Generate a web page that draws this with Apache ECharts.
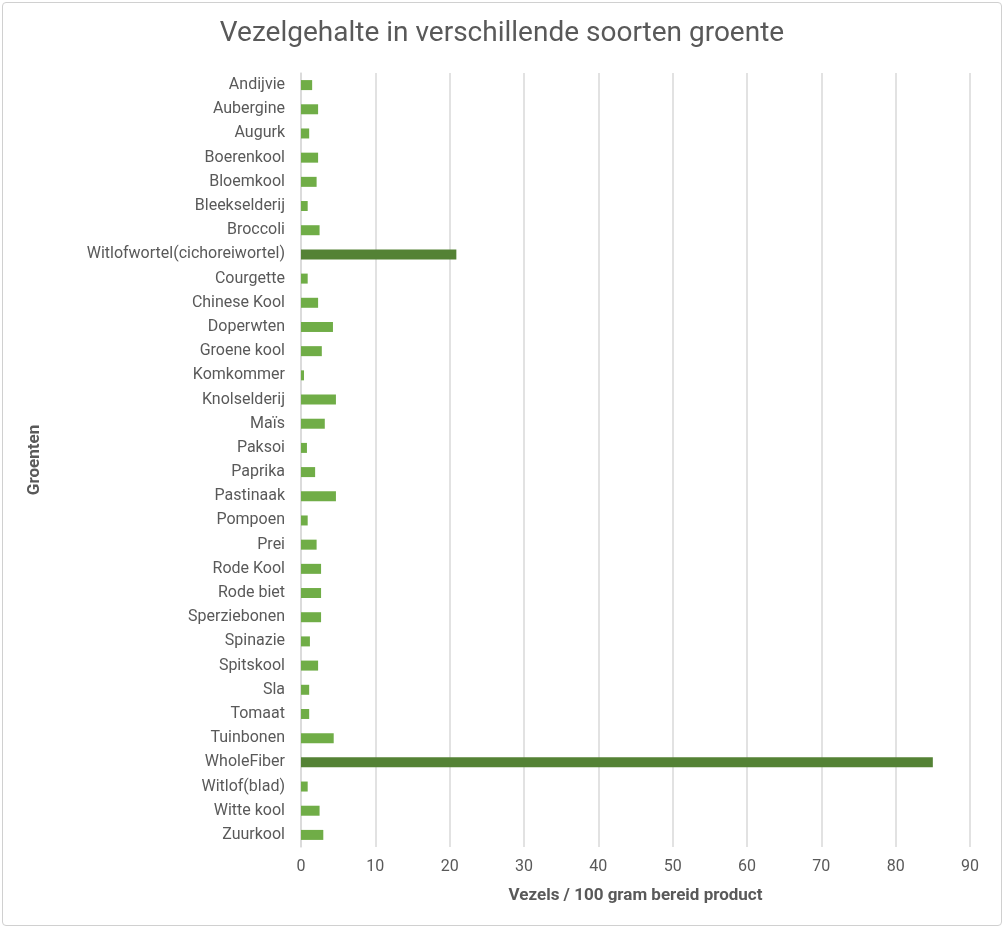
<!DOCTYPE html>
<html><head><meta charset="utf-8">
<script src="https://cdn.jsdelivr.net/npm/echarts@6/dist/echarts.min.js"></script>
<style>html,body{margin:0;padding:0;background:#fff}
#c{position:absolute;left:2px;top:2px;width:1000px;height:924px;border:1px solid #d0d0d0;border-radius:4px;box-sizing:border-box}</style>
</head><body><div id="c"></div>
<script>
const categories=["Andijvie","Aubergine","Augurk","Boerenkool","Bloemkool","Bleekselderij","Broccoli","Witlofwortel(cichoreiwortel)","Courgette","Chinese Kool","Doperwten","Groene kool","Komkommer","Knolselderij","Maïs","Paksoi","Paprika","Pastinaak","Pompoen","Prei","Rode Kool","Rode biet","Sperziebonen","Spinazie","Spitskool","Sla","Tomaat","Tuinbonen","WholeFiber","Witlof(blad)","Witte kool","Zuurkool"];
const values=[1.5,2.3,1.1,2.3,2.1,0.9,2.5,20.9,0.9,2.3,4.3,2.8,0.4,4.7,3.2,0.8,1.9,4.7,0.9,2.1,2.7,2.7,2.7,1.2,2.3,1.1,1.1,4.4,85,0.9,2.5,3.0];
const highlighted=["Witlofwortel(cichoreiwortel)","WholeFiber"];
const xTicks=[0,10,20,30,40,50,60,70,80,90];
const chart=echarts.init(document.getElementById('c'));
const txt='#595959';
chart.setOption({
  animation:false,
  title:{text:'Vezelgehalte in verschillende soorten groente',left:'center',top:12,textStyle:{fontFamily:'Roboto',fontSize:28,fontWeight:'normal',color:txt}},
  grid:{left:298,right:31,top:70,bottom:78,containLabel:false},
  xAxis:{type:'value',min:0,max:90,interval:10,
    name:'Vezels / 100 gram bereid product',nameLocation:'middle',nameGap:40,
    nameTextStyle:{fontFamily:'Roboto',fontSize:17,fontWeight:'bold',color:txt},
    axisLabel:{fontFamily:'Roboto',fontSize:16,color:txt,margin:12},
    axisLine:{show:false},axisTick:{show:false},
    splitLine:{lineStyle:{color:'#d9d9d9',width:1.5}}},
  yAxis:{type:'category',data:categories,inverse:true,
    name:'Groenten',nameLocation:'middle',nameGap:258,nameRotate:90,
    nameTextStyle:{fontFamily:'Roboto',fontSize:17,fontWeight:'bold',color:txt},
    axisLabel:{fontFamily:'Roboto',fontSize:16,color:txt,margin:16},
    axisLine:{lineStyle:{color:'#d9d9d9',width:1.5}},axisTick:{show:false}},
  series:[{type:'bar',barWidth:10,
    data:values.map((v,i)=>({value:v,itemStyle:{color:highlighted.includes(categories[i])?'#548235':'#70AD47'}}))}]
});
</script></body></html>
